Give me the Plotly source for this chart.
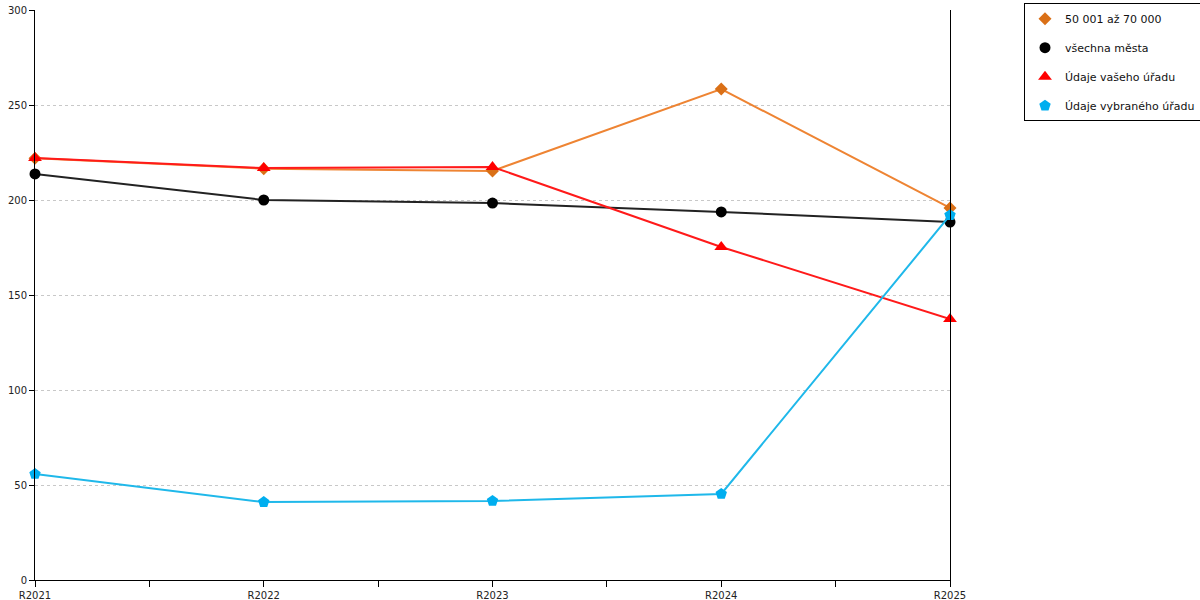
import plotly.graph_objects as go

categories = ["R2021", "R2022", "R2023", "R2024", "R2025"]
series_names = ["50 001 až 70 000", "všechna města", "Údaje vašeho úřadu", "Údaje vybraného úřadu"]
orange_vals = [222.0, 216.5, 215.3, 258.4, 195.8]
black_vals = [213.7, 200.0, 198.4, 193.7, 188.4]
red_vals = [222.1, 216.8, 217.4, 175.3, 137.4]
blue_vals = [55.8, 41.0, 41.6, 45.3, 192.0]
y_ticks = [0, 50, 100, 150, 200, 250, 300]

xs = list(range(len(categories)))

styles = [
    dict(line="#EE8433", marker="#DA7017", symbol="diamond", size=10),
    dict(line="#222222", marker="#000000", symbol="circle", size=11),
    dict(line="#FF1A1A", marker="#FF0000", symbol="triangle-up", size=12),
    dict(line="#1FB8EA", marker="#00AEEF", symbol="pentagon", size=12),
]
data = [orange_vals, black_vals, red_vals, blue_vals]

fig = go.Figure()
for name, vals, st in zip(series_names, data, styles):
    fig.add_trace(go.Scatter(
        x=xs, y=vals, name=name, mode="lines+markers",
        showlegend=False,
        line=dict(color=st["line"], width=2),
        marker=dict(color=st["marker"], symbol=st["symbol"], size=st["size"]),
        cliponaxis=False,
    ))
# legend-only entries (markers only, as in the reference legend)
for name, st in zip(series_names, styles):
    fig.add_trace(go.Scatter(
        x=[None], y=[None], name=name, mode="markers",
        legendgroup=name,
        marker=dict(color=st["marker"], symbol=st["symbol"], size=st["size"]),
    ))

fig.update_layout(
    width=1200, height=600,
    margin=dict(l=35, r=250, t=10, b=20, autoexpand=False),
    paper_bgcolor="white", plot_bgcolor="white",
    font=dict(family="DejaVu Sans", size=10, color="#222222"),
    showlegend=True,
    legend=dict(
        x=(1024 - 35) / 915, y=1.012, xanchor="left", yanchor="top",
        bordercolor="#000000", borderwidth=1, bgcolor="white",
        font=dict(family="DejaVu Sans", size=11, color="#111111"),
        tracegroupgap=10,
    ),
    xaxis=dict(
        range=[0, len(categories) - 1],
        tickvals=xs, ticktext=categories,
        showgrid=False, zeroline=False,
        showline=True, linecolor="#000000", linewidth=1,
        ticks="outside", ticklen=6, tickcolor="#000000",
        minor=dict(tickvals=[0.5, 1.5, 2.5, 3.5], ticks="outside", ticklen=6, tickcolor="#000000"),
        automargin=False,
    ),
    yaxis=dict(
        range=[0, 300], tickvals=y_ticks,
        showgrid=True, gridcolor="#C8C8C8", griddash="dot", gridwidth=1,
        zeroline=False,
        showline=True, mirror=True, linecolor="#000000", linewidth=1,
        ticks="outside", ticklen=5, tickcolor="#000000",
        automargin=False,
    ),
)

fig.write_html("out.html", config={"displayModeBar": False},
               post_script="document.body.style.margin='0';")
